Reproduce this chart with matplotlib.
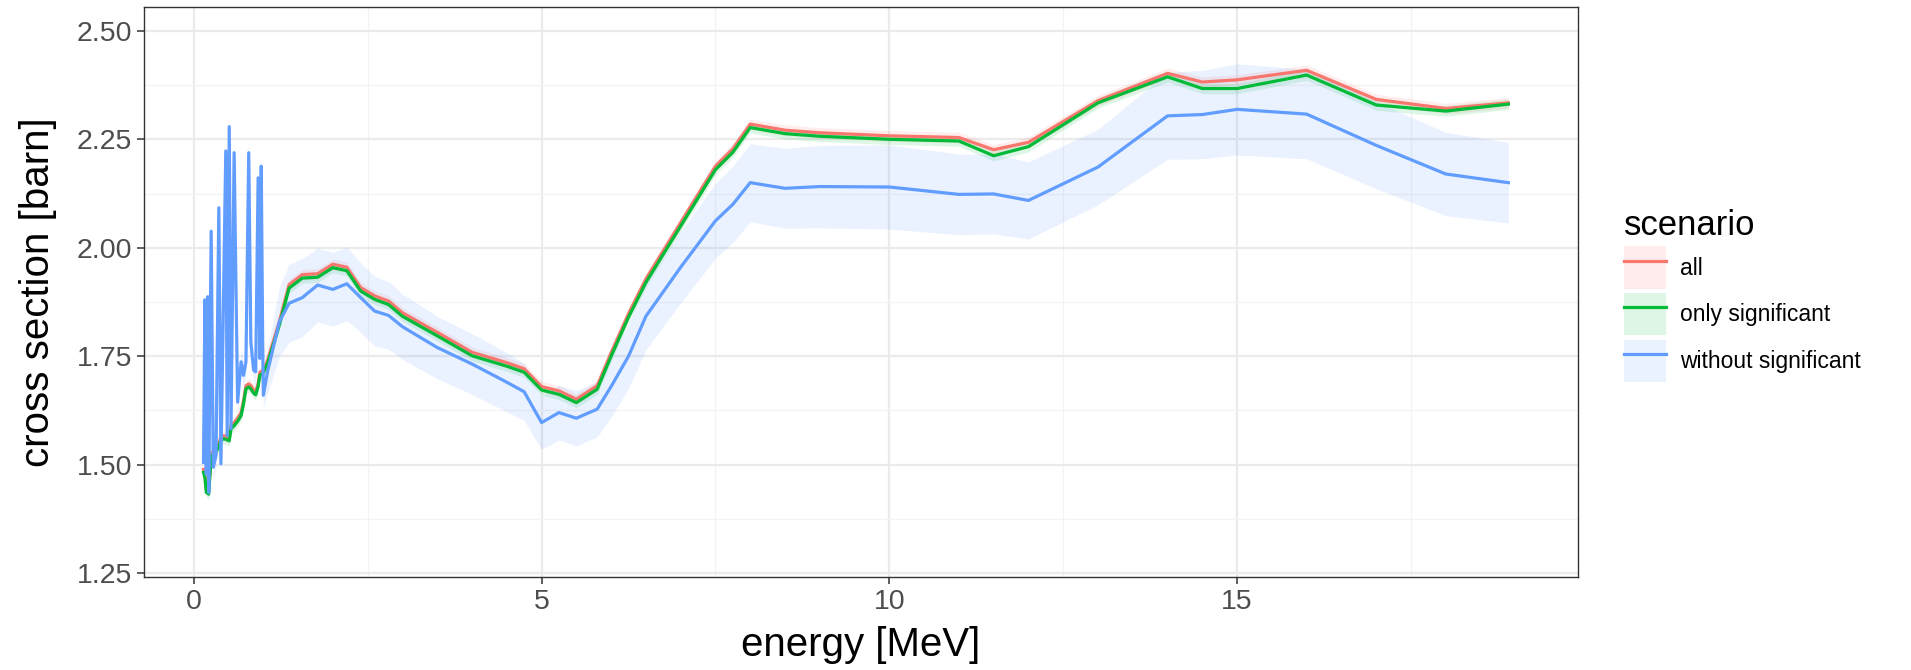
import matplotlib
matplotlib.use('Agg')
import matplotlib.pyplot as plt
from matplotlib.patches import Patch
from matplotlib.lines import Line2D
import numpy as np

plt.rcParams['font.family'] = ['Liberation Sans', 'DejaVu Sans']

# energy grid [MeV]
energy = [0.14, 0.16, 0.18, 0.20, 0.215, 0.25, 0.28, 0.32, 0.36, 0.39,
          0.46, 0.48, 0.51, 0.535, 0.58, 0.63, 0.68, 0.715, 0.75, 0.79,
          0.82, 0.86, 0.89, 0.925, 0.95, 0.97, 0.99, 1.0, 1.06, 1.23,
          1.37, 1.56, 1.78, 2.0, 2.2, 2.4, 2.6, 2.8, 3.0, 3.5,
          4.0, 4.5, 4.75, 5.0, 5.25, 5.5, 5.8, 6.0, 6.25, 6.5,
          7.0, 7.5, 7.75, 8.0, 8.5, 9.0, 10.0, 11.0, 11.5, 12.0,
          13.0, 14.0, 14.5, 15.0, 16.0, 17.0, 18.0, 18.9]

xs_all = [1.489, 1.477, 1.443, 1.441, 1.439, 1.528, 1.512, 1.537, 1.547, 1.566,
          1.566, 1.564, 1.562, 1.590, 1.597, 1.607, 1.620, 1.647, 1.682, 1.686,
          1.682, 1.672, 1.668, 1.687, 1.713, 1.715, 1.717, 1.719, 1.740, 1.830,
          1.915, 1.938, 1.940, 1.962, 1.955, 1.908, 1.889, 1.877, 1.850, 1.805,
          1.759, 1.735, 1.721, 1.680, 1.670, 1.651, 1.682, 1.758, 1.848, 1.928,
          2.058, 2.188, 2.228, 2.285, 2.271, 2.265, 2.258, 2.254, 2.226, 2.243,
          2.339, 2.402, 2.382, 2.387, 2.409, 2.342, 2.321, 2.334]

xs_only = [1.482, 1.470, 1.436, 1.434, 1.432, 1.521, 1.505, 1.530, 1.540, 1.559,
           1.559, 1.557, 1.555, 1.583, 1.590, 1.600, 1.613, 1.640, 1.675, 1.679,
           1.675, 1.665, 1.661, 1.680, 1.706, 1.708, 1.710, 1.712, 1.733, 1.822,
           1.907, 1.930, 1.932, 1.954, 1.947, 1.900, 1.881, 1.869, 1.842, 1.797,
           1.751, 1.727, 1.713, 1.672, 1.662, 1.643, 1.674, 1.750, 1.840, 1.920,
           2.050, 2.180, 2.220, 2.277, 2.263, 2.257, 2.250, 2.246, 2.212, 2.233,
           2.334, 2.394, 2.367, 2.367, 2.398, 2.329, 2.315, 2.331]

xs_without = [1.505, 1.880, 1.478, 1.887, 1.436, 2.038, 1.494, 1.521, 2.092, 1.502,
              2.223, 1.567, 2.279, 1.583, 2.219, 1.644, 1.737, 1.706, 1.737, 2.219,
              1.783, 1.718, 1.714, 2.161, 1.745, 2.188, 1.791, 1.660, 1.714, 1.829,
              1.872, 1.885, 1.914, 1.904, 1.917, 1.885, 1.854, 1.844, 1.818, 1.770,
              1.732, 1.690, 1.668, 1.597, 1.620, 1.607, 1.628, 1.680, 1.750, 1.842,
              1.955, 2.062, 2.100, 2.150, 2.137, 2.141, 2.140, 2.123, 2.124, 2.109,
              2.186, 2.304, 2.307, 2.319, 2.308, 2.236, 2.170, 2.150]

# half width of the uncertainty ribbons
err_all = 0.012
err_only = 0.012
err_without = [0.03, 0.03, 0.03, 0.03, 0.03, 0.03, 0.03, 0.03, 0.03, 0.03,
               0.03, 0.03, 0.03, 0.03, 0.03, 0.03, 0.03, 0.03, 0.03, 0.03,
               0.03, 0.03, 0.03, 0.03, 0.03, 0.03, 0.03, 0.03, 0.05, 0.08,
               0.09, 0.09, 0.085, 0.085, 0.085, 0.08, 0.08, 0.078, 0.075, 0.072,
               0.07, 0.068, 0.066, 0.062, 0.063, 0.064, 0.064, 0.07, 0.074, 0.077,
               0.082, 0.086, 0.088, 0.09, 0.092, 0.095, 0.097, 0.093, 0.092, 0.089,
               0.087, 0.1, 0.102, 0.105, 0.103, 0.1, 0.096, 0.093]

scenarios = ['all', 'only significant', 'without significant']
colors = ['#F8766D', '#00BA38', '#619CFF']
values = [xs_all, xs_only, xs_without]
errors = [err_all, err_only, err_without]

fig = plt.figure(figsize=(19.11, 6.70), dpi=100)
ax = fig.add_axes([0.0752, 0.1388, 0.7505, 0.8508])

x = np.array(energy)
for y, e, c in zip(values, errors, colors):
    y = np.array(y)
    e = np.array(e)
    ax.fill_between(x, y - e, y + e, color=c, alpha=0.13, lw=0)
for y, c in zip(values, colors):
    ax.plot(x, y, color=c, lw=2.3)

ax.set_xlim(-0.72, 19.9)
ax.set_ylim(1.241, 2.555)
ax.set_xticks([0, 5, 10, 15])
ax.set_xticks([2.5, 7.5, 12.5, 17.5], minor=True)
ax.set_yticks([1.25, 1.50, 1.75, 2.00, 2.25, 2.50])
ax.set_yticks([1.375, 1.625, 1.875, 2.125, 2.375], minor=True)
ax.set_yticklabels(['1.25', '1.50', '1.75', '2.00', '2.25', '2.50'])
ax.grid(which='major', color='#EBEBEB', lw=1.6)
ax.grid(which='minor', color='#F3F3F3', lw=0.9)
ax.set_axisbelow(True)
ax.tick_params(which='major', labelsize=20.5, labelcolor='#4D4D4D',
               color='#333333', length=5, width=1.1)
ax.tick_params(which='minor', length=0)
for s in ax.spines.values():
    s.set_color('#333333')
    s.set_linewidth(1.0)

ax.set_xlabel('energy [MeV]', fontsize=29, labelpad=8)
ax.set_ylabel('cross section [barn]', fontsize=29, labelpad=14)

handles = [(Patch(facecolor=c, alpha=0.13, edgecolor='none'),
            Line2D([], [], color=c, lw=2.3)) for c in colors]
leg = fig.legend(handles, scenarios, title='scenario', loc='upper left',
                 bbox_to_anchor=(0.839, 0.719), frameon=False, fontsize=16.5,
                 title_fontsize=25, handlelength=1.85, handleheight=2.45,
                 labelspacing=0.2, handletextpad=0.6, alignment='left')

fig.savefig('out.png', dpi=100)
